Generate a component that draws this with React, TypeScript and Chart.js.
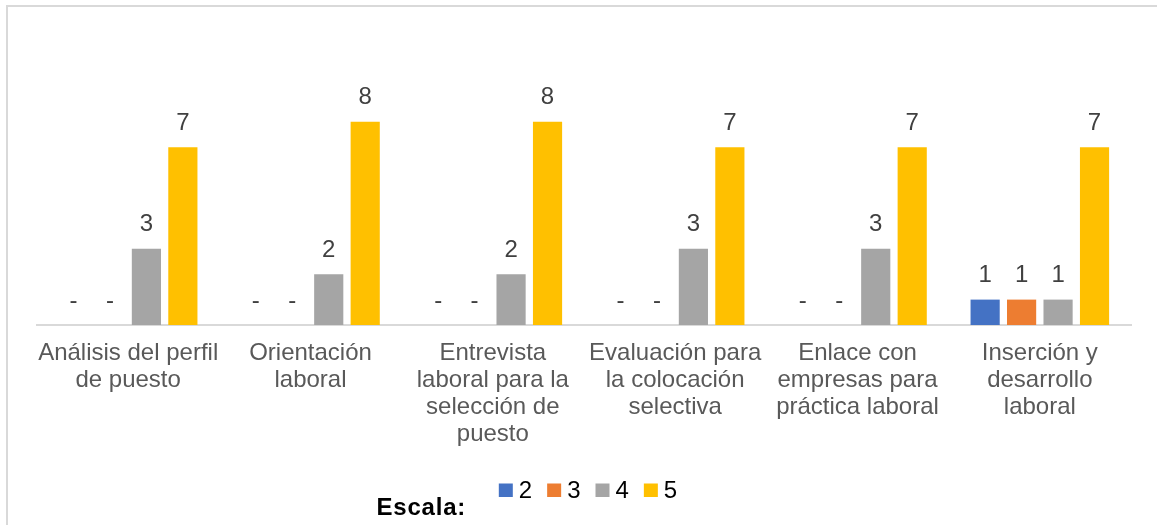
import React, { useEffect, useRef } from "react";
import { Chart, registerables } from "chart.js";

Chart.register(...registerables);

// ---------- data ----------
const categories: string[][] = [
  ["Análisis del perfil", "de puesto"],
  ["Orientación", "laboral"],
  ["Entrevista", "laboral para la", "selección de", "puesto"],
  ["Evaluación para", "la colocación", "selectiva"],
  ["Enlace con", "empresas para", "práctica laboral"],
  ["Inserción y", "desarrollo", "laboral"],
];
const seriesNames = ["2", "3", "4", "5"];
const escala2 = [0, 0, 0, 0, 0, 1];
const escala3 = [0, 0, 0, 0, 0, 1];
const escala4 = [3, 2, 2, 3, 3, 1];
const escala5 = [7, 8, 8, 7, 7, 7];
const seriesColors = ["#4472C4", "#ED7D31", "#A5A5A5", "#FFC000"];
const legendTitle = "Escala:";

const FONT = "'Liberation Sans', Arial, sans-serif";
const W = 1157;
const H = 525;

const framePlugin = {
  id: "frame",
  beforeDraw(chart: any) {
    const ctx = chart.ctx;
    ctx.save();
    ctx.fillStyle = "#ffffff";
    ctx.fillRect(0, 0, chart.width, chart.height);
    ctx.strokeStyle = "#D9D9D9";
    ctx.lineWidth = 2;
    ctx.strokeRect(7, 6, chart.width + 50, chart.height + 50);
    ctx.restore();
  },
};

const valueLabelPlugin = {
  id: "valueLabels",
  afterDatasetsDraw(chart: any) {
    const ctx = chart.ctx;
    ctx.save();
    ctx.font = `24px ${FONT}`;
    ctx.fillStyle = "#404040";
    ctx.textAlign = "center";
    ctx.textBaseline = "alphabetic";
    chart.data.datasets.forEach((ds: any, i: number) => {
      const meta = chart.getDatasetMeta(i);
      meta.data.forEach((bar: any, j: number) => {
        const v = ds.data[j];
        const txt = v === 0 ? "-" : String(v);
        ctx.fillText(txt, bar.x, bar.y - 17.5);
      });
    });
    ctx.restore();
  },
};

const legendPlugin = {
  id: "customLegend",
  afterDraw(chart: any) {
    const ctx = chart.ctx;
    ctx.save();
    // title
    ctx.font = `bold 24px ${FONT}`;
    ctx.fillStyle = "#000000";
    ctx.textAlign = "left";
    ctx.textBaseline = "alphabetic";
    try {
      (ctx as any).letterSpacing = "0.8px";
    } catch (e) {}
    ctx.fillText(legendTitle, 376.5, 514.5);
    try {
      (ctx as any).letterSpacing = "0px";
    } catch (e) {}

    // items
    ctx.font = `24px ${FONT}`;
    const box = 14;
    const gap = 6;
    const spacing = 15;
    const items = chart.data.datasets.map((d: any) => ({
      label: d.label,
      color: d.backgroundColor,
      w: ctx.measureText(d.label).width,
    }));
    let total = 0;
    items.forEach((it: any) => (total += box + gap + it.w));
    total += spacing * (items.length - 1);
    let x = 588 - total / 2;
    items.forEach((it: any) => {
      ctx.fillStyle = it.color;
      ctx.fillRect(x, 483.5, box, 13.5);
      ctx.fillStyle = "#000000";
      ctx.fillText(it.label, x + box + gap, 497.7);
      x += box + gap + it.w + spacing;
    });
    ctx.restore();
  },
};

export default function App() {
  const ref = useRef<HTMLCanvasElement | null>(null);

  useEffect(() => {
    if (!ref.current) return;
    const values = [escala2, escala3, escala4, escala5];
    const chart = new Chart(ref.current, {
      type: "bar",
      data: {
        labels: categories,
        datasets: seriesNames.map((name, i) => ({
          label: name,
          data: values[i],
          backgroundColor: seriesColors[i],
          borderWidth: 0,
          categoryPercentage: 0.8,
          barPercentage: 0.8,
        })),
      },
      options: {
        responsive: false,
        animation: false,
        devicePixelRatio: 1,
        layout: { padding: { top: 71, left: 37, right: 26, bottom: 0 } },
        plugins: {
          legend: { display: false },
          tooltip: { enabled: false },
          title: { display: false },
        },
        scales: {
          x: {
            grid: { display: false, drawTicks: false },
            border: { display: true, color: "#D9D9D9", width: 2 },
            ticks: {
              color: "#595959",
              font: { family: FONT, size: 24, lineHeight: 1.125 },
              padding: 15,
              maxRotation: 0,
              minRotation: 0,
              autoSkip: false,
            },
            afterFit(scale: any) {
              scale.height = 200;
            },
          },
          y: {
            display: false,
            min: 0,
            max: 10,
          },
        },
      },
      plugins: [framePlugin, valueLabelPlugin, legendPlugin],
    });
    return () => chart.destroy();
  }, []);

  return (
    <div
      style={{
        position: "absolute",
        left: 0,
        top: 0,
        width: W,
        height: H,
        overflow: "hidden",
        background: "#ffffff",
      }}
    >
      <canvas ref={ref} width={W} height={H} style={{ width: W, height: H, display: "block" }} />
    </div>
  );
}
